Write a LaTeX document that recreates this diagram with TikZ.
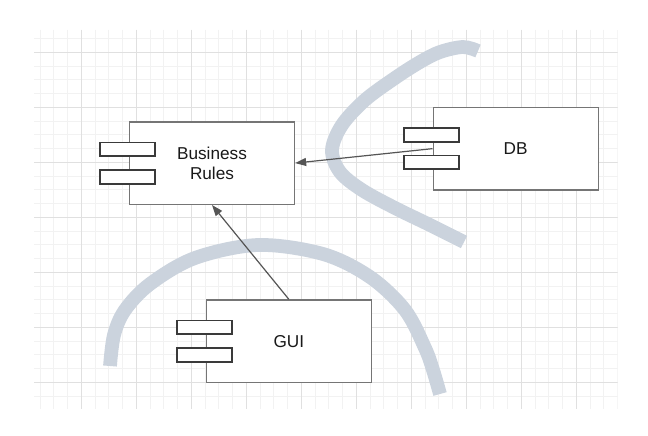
\documentclass[tikz,border=0pt]{standalone}
\usepackage{fontspec}
\setmainfont{Liberation Sans}
\usetikzlibrary{arrows.meta}

\definecolor{gridminor}{HTML}{F2F2F2}
\definecolor{gridmajor}{HTML}{E0E0E0}
\definecolor{band}{HTML}{CBD3DD}
\definecolor{boxline}{HTML}{757575}
\definecolor{tabline}{HTML}{3A3A3A}
\definecolor{connline}{HTML}{555555}

\tikzset{
  component/.style={draw=boxline, line width=1.3pt, fill=white,
    minimum width=165pt, minimum height=82.5pt, inner sep=0pt,
    align=center, text=black!90, font=\fontsize{17.2}{20}\selectfont},
  porttab/.style={draw=tabline, line width=1.6pt, fill=white,
    minimum width=55pt, minimum height=13.75pt, inner sep=0pt},
  boundary/.style={draw=band, line width=13.75pt, line cap=butt},
  conn/.style={draw=connline, line width=1.2pt,
    -{Triangle[length=11pt,width=8pt]}}
}

\begin{document}
\begin{tikzpicture}[x=1pt, y=-1pt]
  \useasboundingbox (0,0) rectangle (648,436);
  \fill[white] (0,0) rectangle (648,436);

  % background grid: minor lines every 13.75, major every 55
  \begin{scope}
    \clip (34,30) rectangle (617.5,408.5);
    \foreach \i in {0,...,42} {
      \draw[gridminor, line width=0.8pt] ({40.05+13.75*\i},30) -- ++(0,378.5);
    }
    \foreach \j in {0,...,27} {
      \draw[gridminor, line width=0.8pt] (34,{38.55+13.75*\j}) -- ++(583.5,0);
    }
    \foreach \i in {0,...,9} {
      \draw[gridmajor, line width=0.9pt] ({81.3+55*\i},30) -- ++(0,378.5);
    }
    \foreach \j in {0,...,6} {
      \draw[gridmajor, line width=0.9pt] (34,{52.3+55*\j}) -- ++(583.5,0);
    }
  \end{scope}

  % layer boundaries
  \draw[boundary] plot[smooth, tension=0.55] coordinates {
    (478,51) (463,47) (440,52) (420,62) (395,78) (365,100) (342,125)
    (332,150) (340,172) (362,190) (395,208) (430,225) (464,242)};
  \draw[boundary] plot[smooth, tension=0.55] coordinates {
    (110,366) (114,335) (125,310) (150,284) (195,258) (258,245)
    (323,254) (370,277) (405,310) (425,348) (433,370) (440,394)};

  % components
  \node[component] (br) at (212,163.1) {Business\\Rules};
  \node[porttab] (brtop) at ([xshift=-1.3pt,yshift=13.75pt]br.west) {};
  \node[porttab] (brbot) at ([xshift=-1.3pt,yshift=-13.75pt]br.west) {};

  \node[component] (db) at (515.65,148.65) {DB};
  \node[porttab] (dbtop) at ([xshift=-1.3pt,yshift=13.75pt]db.west) {};
  \node[porttab] (dbbot) at ([xshift=-1.3pt,yshift=-13.75pt]db.west) {};

  \node[component] (gui) at (288.8,341.15) {GUI};
  \node[porttab] (guitop) at ([xshift=-1.3pt,yshift=13.75pt]gui.west) {};
  \node[porttab] (guibot) at ([xshift=-1.3pt,yshift=-13.75pt]gui.west) {};

  % dependencies
  \draw[conn] (db.west) -- (br.east);
  \draw[conn] (gui.north) -- (br.south);
\end{tikzpicture}
\end{document}
